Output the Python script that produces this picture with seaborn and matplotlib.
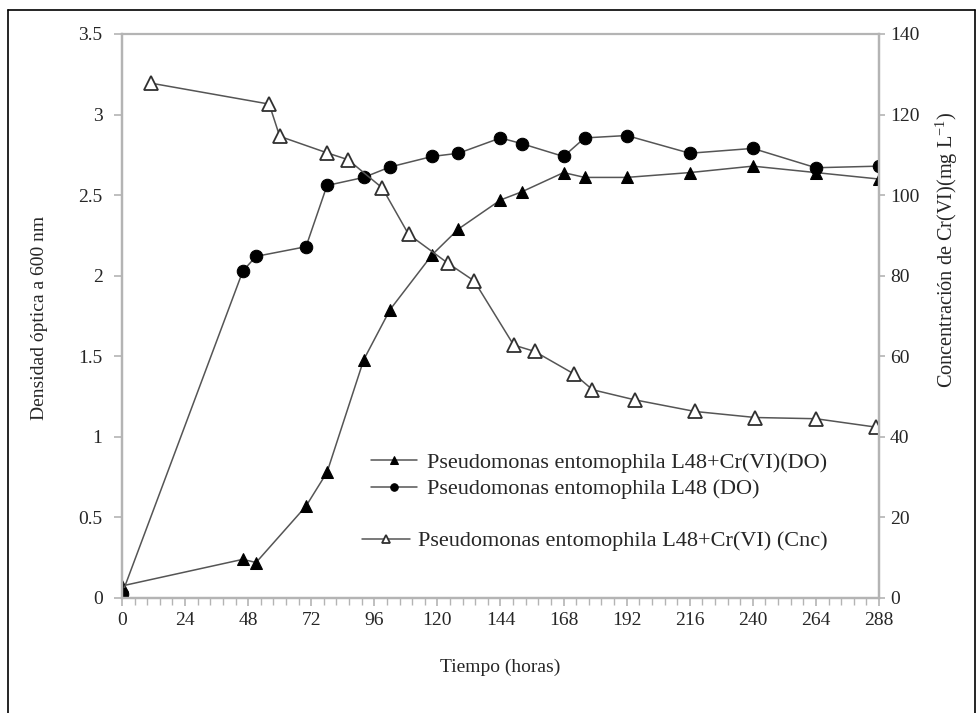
import matplotlib
matplotlib.use("Agg")
import matplotlib.pyplot as plt
import seaborn as sns
import numpy as np
from matplotlib.ticker import MultipleLocator, AutoMinorLocator
from matplotlib.lines import Line2D

# ---- data ----
t_do = [0, 46, 51, 70, 78, 92, 102, 118, 128, 144, 152, 168, 176, 192, 216, 240, 264, 288]
do_cr = [0.075, 0.24, 0.22, 0.57, 0.78, 1.48, 1.79, 2.13, 2.29, 2.47, 2.52, 2.64, 2.61, 2.61,
         2.64, 2.68, 2.64, 2.60]
do_ctrl = [0.025, 2.03, 2.12, 2.18, 2.56, 2.61, 2.675, 2.74, 2.76, 2.855, 2.82, 2.74, 2.855, 2.87,
           2.76, 2.79, 2.67, 2.68]
t_cnc = [11, 56, 60, 78, 86, 99, 109, 124, 134, 149, 157, 172, 179, 195, 218, 241, 264, 287]
cnc = [127.8, 122.6, 114.6, 110.5, 108.8, 101.8, 90.3, 83.1, 78.7, 62.8, 61.2, 55.6, 51.7, 49.2,
       46.3, 44.8, 44.5, 42.4]

lab_cr = "Pseudomonas entomophila L48+Cr(VI)(DO)"
lab_ctrl = "Pseudomonas entomophila L48 (DO)"
lab_cnc = "Pseudomonas entomophila L48+Cr(VI) (Cnc)"

x_ticks = list(range(0, 289, 24))
y_left_ticks = [0, 0.5, 1, 1.5, 2, 2.5, 3, 3.5]
y_left_labels = ["0", "0.5", "1", "1.5", "2", "2.5", "3", "3.5"]
y_right_ticks = list(range(0, 141, 20))

sns.set_style("white")
plt.rcParams['font.family'] = ['Liberation Serif', 'DejaVu Serif']
plt.rcParams['mathtext.default'] = 'regular'

W, H = 978, 713
fig = plt.figure(figsize=(W / 100, H / 100), dpi=100)
L, R, B, T = 122, 879, 598, 34
ax = fig.add_axes([L / W, 1 - B / H, (R - L) / W, (B - T) / H])
ax2 = ax.twinx()

line_c = '#555555'
axis_c = '#b4b4b4'
FS = 14
LFS = 16

sns.lineplot(x=t_do, y=do_cr, ax=ax, color=line_c, linewidth=1.1, marker='^', markersize=9,
             markerfacecolor='black', markeredgecolor='black', label=lab_cr, sort=False)
sns.lineplot(x=t_do, y=do_ctrl, ax=ax, color=line_c, linewidth=1.1, marker='o', markersize=9,
             markerfacecolor='black', markeredgecolor='black', label=lab_ctrl, sort=False)
sns.lineplot(x=t_cnc, y=cnc, ax=ax2, color=line_c, linewidth=1.1, marker='^', markersize=10,
             markerfacecolor='white', markeredgecolor='#303030', markeredgewidth=1.3,
             label=lab_cnc, sort=False)

ax.set_xlim(0, 288)
ax.set_ylim(0, 3.5)
ax2.set_ylim(0, 140)
ax.set_xticks(x_ticks)
ax.set_xticklabels([str(v) for v in x_ticks], fontsize=FS)
ax.xaxis.set_minor_locator(AutoMinorLocator(5))
ax.set_yticks(y_left_ticks)
ax.set_yticklabels(y_left_labels, fontsize=FS)
ax2.set_yticks(y_right_ticks)
ax2.set_yticklabels([str(v) for v in y_right_ticks], fontsize=FS)

for a in (ax, ax2):
    for s in a.spines.values():
        s.set_color(axis_c)
        s.set_linewidth(1.6)
    a.set_xlabel("")
    a.set_ylabel("")
ax.spines['top'].set_linewidth(1.4)

ax.tick_params(axis='x', which='major', direction='out', length=6, width=1.2, color=axis_c,
               pad=4, bottom=True)
ax.tick_params(axis='x', which='minor', direction='out', length=5, width=1.0, color=axis_c,
               bottom=True)
ax.tick_params(axis='y', which='major', direction='out', length=6, width=1.2, color=axis_c,
               pad=8, left=True)
ax2.tick_params(axis='y', which='major', direction='out', length=4, width=1.2, color=axis_c,
                pad=4, right=True)

# axis titles
fig.text(500 / W, 1 - 667 / H, "Tiempo (horas)", ha='center', va='center', fontsize=FS)
fig.text(40 / W, 1 - 318 / H, "Densidad óptica a 600 nm", ha='center', va='center',
         rotation=90, fontsize=FS)
fig.text(947 / W, 1 - 250 / H, "Concentración de Cr(VI)(mg L$^{-1}$)", ha='center',
         va='center', rotation=90, fontsize=14.6)

# legends
if ax.get_legend():
    ax.get_legend().remove()
if ax2.get_legend():
    ax2.get_legend().remove()
h1, l1 = ax.get_legend_handles_labels()
h2, l2 = ax2.get_legend_handles_labels()
leg1 = ax2.legend(h1, l1, loc='center left', bbox_to_anchor=(371 / W, 1 - 476 / H),
                  bbox_transform=fig.transFigure, frameon=False, fontsize=LFS,
                  handlelength=2.05, handletextpad=0.45, labelspacing=0.25,
                  borderpad=0, borderaxespad=0, markerscale=0.6)
ax2.add_artist(leg1)
leg2 = ax2.legend(h2, l2, loc='center left', bbox_to_anchor=(362 / W, 1 - 541 / H),
                  bbox_transform=fig.transFigure, frameon=False, fontsize=LFS,
                  handlelength=2.15, handletextpad=0.38, borderpad=0, borderaxespad=0,
                  markerscale=0.6)

# outer border (left, top, right)
bx0, by0, bx1 = 8 / W, 1 - 10 / H, 975 / W
fig.add_artist(Line2D([bx0, bx0], [0, by0], color='black', lw=1.2, transform=fig.transFigure))
fig.add_artist(Line2D([bx0, bx1], [by0, by0], color='black', lw=1.2, transform=fig.transFigure))
fig.add_artist(Line2D([bx1, bx1], [0, by0], color='black', lw=1.2, transform=fig.transFigure))

fig.savefig("out.png", dpi=100)
